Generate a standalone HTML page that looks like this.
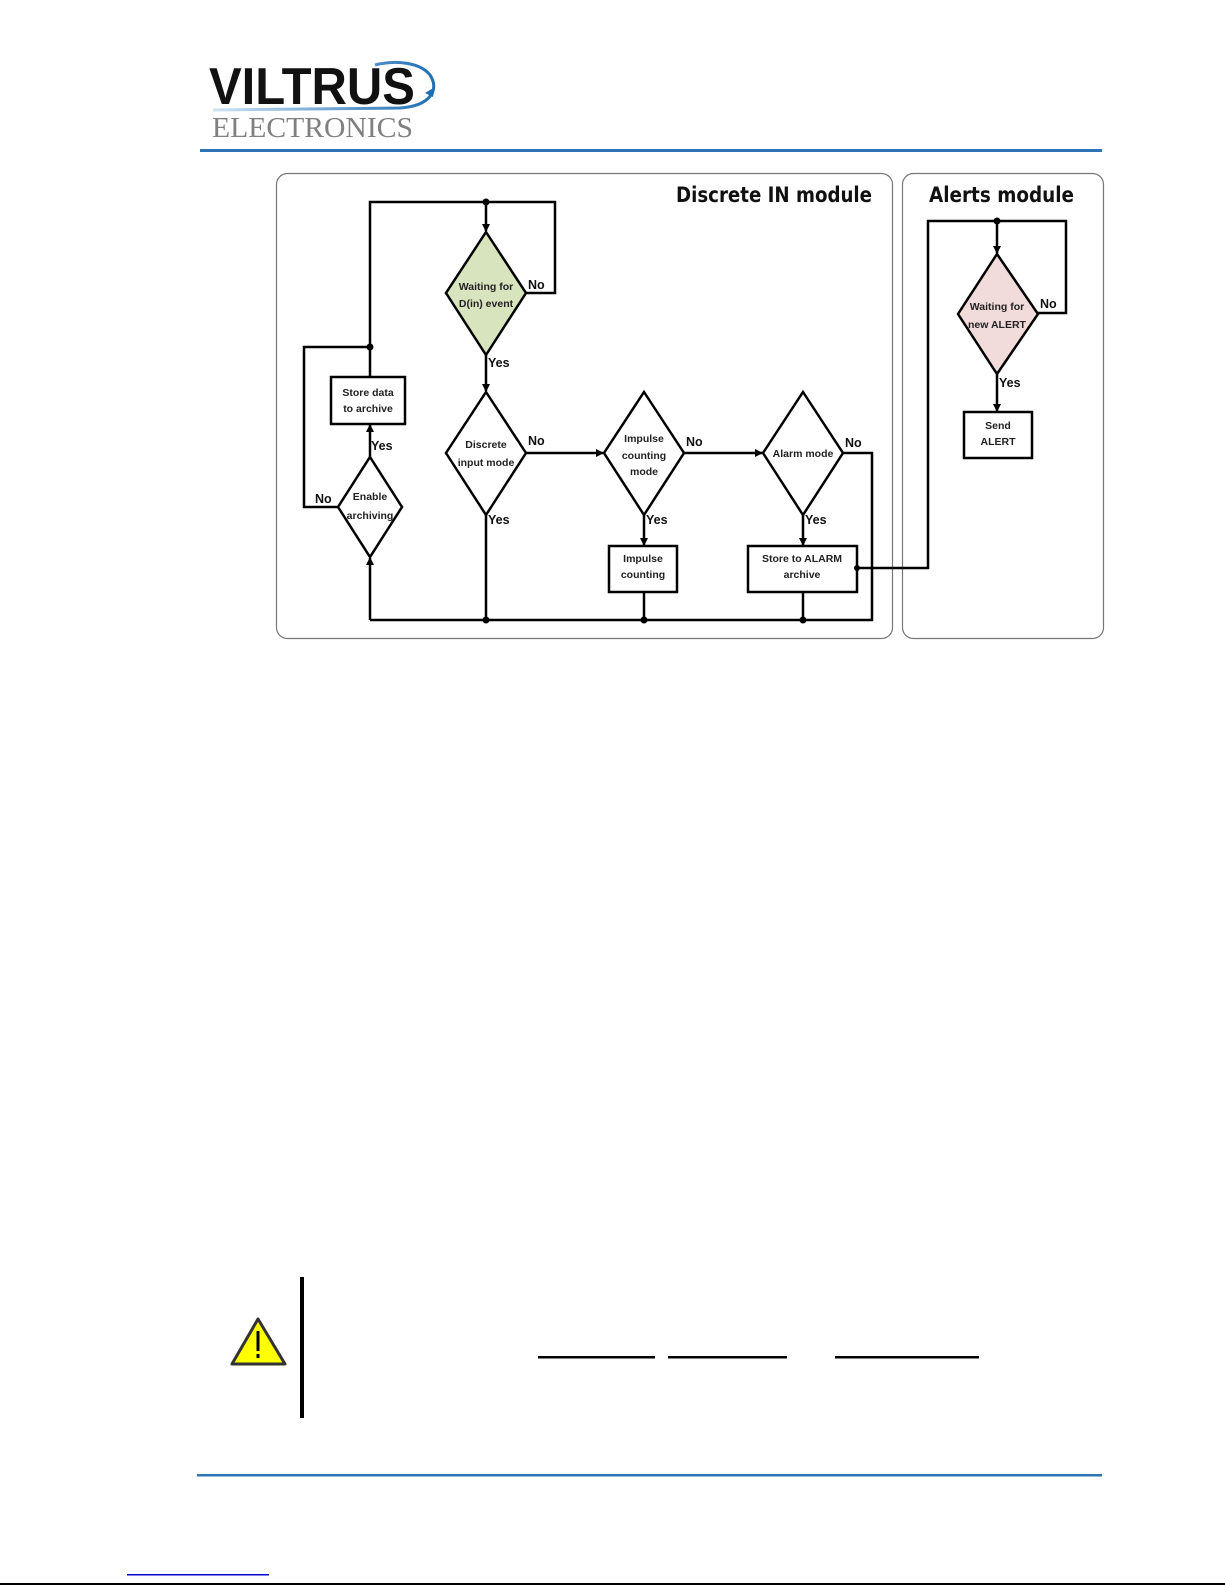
<!DOCTYPE html>
<html><head><meta charset="utf-8"><style>
html,body{margin:0;padding:0;background:#fff;overflow:hidden;width:1225px;height:1585px}
svg{display:block}
</style></head><body>
<svg width="1225" height="1585" viewBox="0 0 1225 1585" xmlns="http://www.w3.org/2000/svg" font-family="Liberation Sans, Arial, sans-serif">
<defs>
<marker id="ar" markerWidth="8" markerHeight="8" refX="7" refY="4" orient="auto" markerUnits="userSpaceOnUse"><path d="M0,0 L8,4 L0,8 z" fill="#000"/></marker>
<linearGradient id="sw" x1="0" x2="1"><stop offset="0" stop-color="#cfe4f5"/><stop offset="1" stop-color="#1f6fb5"/></linearGradient>
</defs>
<!-- logo -->
<text x="209" y="104" font-size="52" font-weight="bold" fill="#111" textLength="206" lengthAdjust="spacingAndGlyphs">VILTRUS</text>
<path d="M213,110 L400,108 C430,106 440,90 430,75 C420,62 395,60 375,65" fill="none" stroke="url(#sw)" stroke-width="3"/>
<path d="M425,93 l8,4 l2,-10 z" fill="#1f6fb5"/>
<text x="212" y="137" font-size="29" font-family="Liberation Serif, serif" fill="#808080" textLength="201" lengthAdjust="spacingAndGlyphs">ELECTRONICS</text>
<rect x="200" y="149" width="902" height="3" fill="#2e74b5"/>
<!-- panels -->
<rect x="276.5" y="173.5" width="616" height="465" rx="11" fill="none" stroke="#777" stroke-width="1.2"/>
<rect x="902.5" y="173.5" width="201" height="465" rx="11" fill="none" stroke="#777" stroke-width="1.2"/>
<text x="676" y="202" font-size="21" font-weight="bold" fill="#111" font-family="DejaVu Sans, sans-serif" textLength="196" lengthAdjust="spacingAndGlyphs">Discrete IN module</text>
<text x="929" y="202" font-size="21" font-weight="bold" fill="#111" font-family="DejaVu Sans, sans-serif" textLength="145" lengthAdjust="spacingAndGlyphs">Alerts module</text>
<g stroke="#000" stroke-width="2.5" fill="none">
<polyline points="370,347 370,202 555,202 555,293 526,293"/>
<line x1="486" y1="202" x2="486" y2="231" marker-end="url(#ar)"/>
<line x1="486" y1="355" x2="486" y2="391" marker-end="url(#ar)"/>
<polyline points="370,347 304,347 304,507 338,507"/>
<line x1="370" y1="377" x2="370" y2="347"/>
<line x1="370" y1="457" x2="370" y2="425" marker-end="url(#ar)"/>
<line x1="370" y1="620" x2="370" y2="558" marker-end="url(#ar)"/>
<polyline points="370,620 872,620 872,453 843,453"/>
<line x1="486" y1="515" x2="486" y2="620"/>
<line x1="526" y1="453" x2="603" y2="453" marker-end="url(#ar)"/>
<line x1="684" y1="453" x2="762" y2="453" marker-end="url(#ar)"/>
<line x1="644" y1="515" x2="644" y2="545" marker-end="url(#ar)"/>
<line x1="803" y1="515" x2="803" y2="545" marker-end="url(#ar)"/>
<line x1="644" y1="592" x2="644" y2="620"/>
<line x1="803" y1="592" x2="803" y2="620"/>
<polyline points="857,568 928,568 928,221 1066,221 1066,313 1038,313"/>
<line x1="997" y1="221" x2="997" y2="253" marker-end="url(#ar)"/>
<line x1="997" y1="374" x2="997" y2="411" marker-end="url(#ar)"/>
</g>
<g stroke="#000" stroke-width="2.5">
<polygon points="486,232 526,293 486,355 446,293" fill="#d7e4bd"/>
<polygon points="486,392 526,453 486,515 446,453" fill="#fff"/>
<polygon points="644,392 684,453 644,515 604,453" fill="#fff"/>
<polygon points="803,392 843,453 803,515 763,453" fill="#fff"/>
<polygon points="370,457 402,507 370,557 338,507" fill="#fff"/>
<polygon points="997,254 1038,314 997,374 958,314" fill="#f2dcdb"/>
<rect x="331" y="377" width="74" height="47" fill="#fff"/>
<rect x="609" y="546" width="68" height="46" fill="#fff"/>
<rect x="748" y="546" width="109" height="46" fill="#fff"/>
<rect x="964" y="412" width="68" height="46" fill="#fff"/>
</g>
<g fill="#000">
<circle cx="486" cy="202" r="3.5"/><circle cx="370" cy="347" r="3.5"/>
<circle cx="486" cy="620" r="3.5"/><circle cx="644" cy="620" r="3.5"/><circle cx="803" cy="620" r="3.5"/>
<circle cx="857" cy="568" r="3"/><circle cx="997" cy="221" r="3.5"/>
</g>
<g font-size="10.5" font-weight="bold" fill="#222" text-anchor="middle">
<text x="486" y="290">Waiting for</text><text x="486" y="307">D(in) event</text>
<text x="486" y="448">Discrete</text><text x="486" y="466">input mode</text>
<text x="644" y="442">Impulse</text><text x="644" y="459">counting</text><text x="644" y="475">mode</text>
<text x="803" y="457">Alarm mode</text>
<text x="370" y="500">Enable</text><text x="370" y="519">archiving</text>
<text x="368" y="396">Store data</text><text x="368" y="412">to archive</text>
<text x="643" y="562">Impulse</text><text x="643" y="578">counting</text>
<text x="802" y="562">Store to ALARM</text><text x="802" y="578">archive</text>
<text x="997" y="310">Waiting for</text><text x="997" y="328">new ALERT</text>
<text x="998" y="429">Send</text><text x="998" y="445">ALERT</text>
</g>
<g font-size="12.5" font-weight="bold" fill="#111">
<text x="528" y="289">No</text><text x="488" y="367">Yes</text>
<text x="528" y="445">No</text><text x="488" y="524">Yes</text>
<text x="686" y="446">No</text><text x="646" y="524">Yes</text>
<text x="845" y="447">No</text><text x="805" y="524">Yes</text>
<text x="371" y="450">Yes</text><text x="315" y="503">No</text>
<text x="1040" y="308">No</text><text x="999" y="387">Yes</text>
</g>
<path d="M258,1319 L285,1364 L232,1364 Z" fill="#ffff00" stroke="#333" stroke-width="3" stroke-linejoin="round"/>
<rect x="256.5" y="1331" width="3" height="20" fill="#000"/><rect x="256.5" y="1354" width="3" height="4" fill="#000"/>
<rect x="300" y="1277" width="4" height="141" fill="#000"/>
<g fill="#000"><rect x="538" y="1356" width="117" height="2.5"/><rect x="668" y="1356" width="119" height="2.5"/><rect x="835" y="1356" width="144" height="2.5"/></g>
<rect x="197" y="1474" width="905" height="2.5" fill="#2e74b5"/>
<rect x="127" y="1574" width="142" height="1.5" fill="#0000cc"/>
<rect x="0" y="1583" width="1225" height="2" fill="#000"/>
</svg>
</body></html>
